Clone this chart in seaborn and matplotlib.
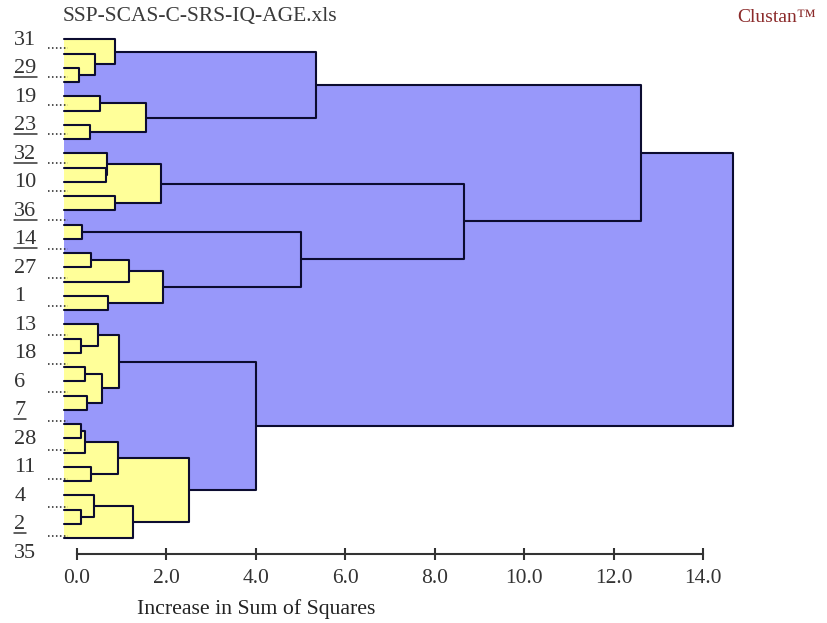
import numpy as np
import pandas as pd
import seaborn as sns
import matplotlib.pyplot as plt

# case labels shown down the left side (every other case)
shown_labels = ['31', '29', '19', '23', '32', '10', '36', '14', '27', '1',
                '13', '18', '6', '7', '28', '11', '4', '2', '35']
underlined = ['29', '23', '32', '36', '14', '7', '2']

n_leaves = 36
# merges in tree order: child a, child b, increase in sum of squares
merge_a = [2, 1, 0, 4, 6, 39, 38, 9, 8, 11, 44, 13, 15, 48, 18, 49, 47, 46, 42,
           21, 20, 23, 25, 57, 56, 27, 61, 30, 62, 33, 32, 66, 64, 60, 54]
merge_b = [3, 36, 37, 5, 7, 40, 41, 10, 43, 12, 45, 14, 16, 17, 19, 50, 51, 52, 53,
           22, 55, 24, 26, 58, 59, 28, 29, 31, 63, 34, 65, 35, 67, 68, 69]
merge_h = [0.04, 0.40, 0.85, 0.52, 0.30, 1.55, 5.35, 0.65, 0.67, 0.85, 1.88, 0.12,
           0.31, 1.16, 0.70, 1.92, 5.01, 8.66, 12.61,
           0.09, 0.48, 0.18, 0.23, 0.57, 0.93, 0.09, 0.18, 0.31, 0.92, 0.09, 0.37,
           1.26, 2.51, 4.00, 14.66]

yellow = '#FFFF99'
blue = '#9898FA'
line_col = '#0c0c30'
text_col = '#333333'
x0 = -0.30  # where case lines start

sns.set_theme(style='white')
plt.rcParams['font.family'] = ['Liberation Serif', 'DejaVu Serif']

fig = plt.figure(figsize=(8.28, 6.23), dpi=100)
ax = fig.add_axes([77 / 828, 69 / 623, 626 / 828, 524 / 623])

# positions of every node (leaves in order, merged nodes at midpoints)
pos = {i: float(i) for i in range(n_leaves)}
height = {}
children = {}
for k, (a, b, h) in enumerate(zip(merge_a, merge_b, merge_h)):
    n = n_leaves + k
    children[n] = (a, b)
    height[n] = h
    pos[n] = (pos[a] + pos[b]) / 2


def contour(n):
    if n < n_leaves:
        return [(x0, pos[n])], [(x0, pos[n])]
    a, b = children[n]
    h = height[n]
    ua, _ = contour(a)
    _, lb = contour(b)
    upper = ua + [(h, pos[a]), (h, pos[n])]
    lower = [(h, pos[n]), (h, pos[b])] + lb
    return upper, lower


def start_x(c):
    return x0 if c < n_leaves else height[c]


# filled cluster shapes, biggest first
for n in sorted(height, key=lambda m: -height[m]):
    up, lo = contour(n)
    pts = np.array(up + lo)
    ax.fill(pts[:, 0], pts[:, 1], color=yellow if height[n] < 3 else blue,
            lw=0, clip_on=False, zorder=1)

# bracket lines
rows = []
for n in height:
    a, b = children[n]
    h = height[n]
    for x, y in [(start_x(a), pos[a]), (h, pos[a]), (h, pos[b]), (start_x(b), pos[b])]:
        rows.append({'x': x, 'y': y, 'seg': n})
seg_df = pd.DataFrame(rows)
sns.lineplot(data=seg_df, x='x', y='y', units='seg', estimator=None, sort=False,
             color=line_col, linewidth=1.5, legend=False, ax=ax, zorder=3)
for ln in ax.lines:
    ln.set_clip_on(False)

# dotted markers for cases without labels
for k in range(n_leaves // 2):
    yy = 0.6 + 2.015 * k
    ax.plot([-0.65, -0.2], [yy, yy], color='#222222', lw=1.1,
            linestyle=(0, (1, 1.6)), clip_on=False, zorder=4)

label_texts = []
for k, lab in enumerate(shown_labels):
    t = ax.text(-1.40, 2 * k + 0.05, lab, ha='left', va='center', fontsize=16,
                color=text_col, clip_on=False)
    label_texts.append((lab, t, 2 * k + 0.05))

ax.set_xlim(0, 14)
ax.set_ylim(36.12, -0.653)
ax.set_xticks(np.arange(0, 15, 2))
ax.set_xticklabels([f'{v:.1f}' for v in np.arange(0, 15, 2)])
ax.set_yticks([])
ax.set_ylabel('')
for s in ['left', 'top', 'right']:
    ax.spines[s].set_visible(False)
ax.spines['bottom'].set_color(text_col)
ax.spines['bottom'].set_linewidth(1.5)
ax.tick_params(axis='x', direction='inout', length=9, width=1.5, colors=text_col,
               labelsize=15.5, pad=6, bottom=True)
ax.set_xlabel('Increase in Sum of Squares', fontsize=15.7, color='#222222',
              ha='left', va='center')
ax.xaxis.set_label_coords(60 / 626, -55 / 524)
ax.patch.set_alpha(0)

fig.text(63 / 828, 1 - 17 / 623, 'SSP-SCAS-C-SRS-IQ-AGE.xls', fontsize=15.5,
         color='#3a3a3a', ha='left', va='center')
fig.text(737 / 828, 1 - 17 / 623, 'Clustan™', fontsize=14, color='#8b2a2a',
         ha='left', va='center')

# underline the marked case labels
fig.canvas.draw()
renderer = fig.canvas.get_renderer()
inv = ax.transData.inverted()
for lab, t, yy in label_texts:
    if lab in underlined:
        bb = t.get_window_extent(renderer)
        xa = inv.transform((bb.x0, 0))[0]
        xb = inv.transform((bb.x1, 0))[0]
        ax.plot([xa, xb], [yy + 0.62, yy + 0.62], color=text_col, lw=1.1,
                clip_on=False, zorder=4)

fig.savefig('out.png', dpi=100, facecolor='white')
